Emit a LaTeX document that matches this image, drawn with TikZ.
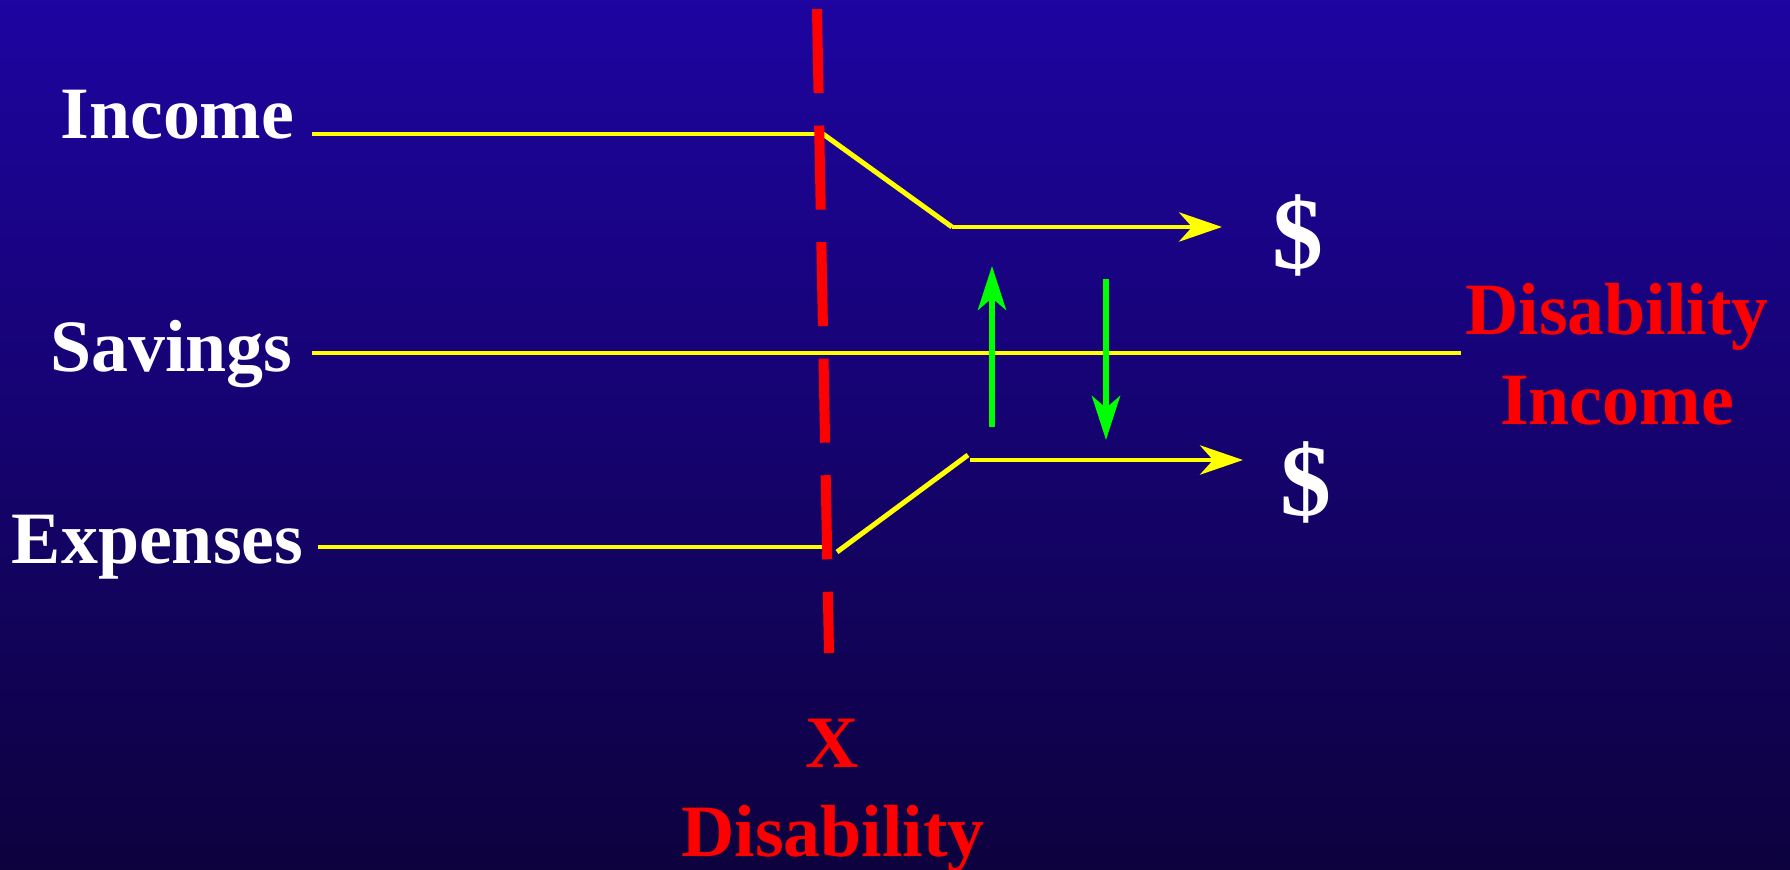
\documentclass[tikz,border=0pt]{standalone}
\usepackage{fontspec}
\setmainfont{Liberation Serif}
\usetikzlibrary{arrows.meta}
\definecolor{slideTop}{RGB}{30,4,160}
\definecolor{slideBot}{RGB}{13,2,62}
\definecolor{cashYellow}{RGB}{255,255,0}
\definecolor{swapGreen}{RGB}{0,255,0}
\tikzset{
  lbl/.style={font=\fontsize{21}{25}\selectfont\bfseries,text=white,inner sep=0pt},
  redlbl/.style={lbl,text=red},
  cashline/.style={draw=cashYellow,line width=1.42pt},
  cashtip/.style={cashline,-{Stealth[length=12.2pt,width=8.3pt,inset=3.7pt]}},
  swaparrow/.style={draw=swapGreen,line width=1.7pt,-{Stealth[length=12.5pt,width=8pt,inset=3.4pt]}},
}

\begin{document}
\begin{tikzpicture}[x=0.01cm,y=-0.01cm]
\shade[top color=slideTop,bottom color=slideBot] (0,0) rectangle (1790,870);
\clip (0,0) rectangle (1790,870);
% row labels
\node[lbl,anchor=base east] (income) at (295,139) {Income};
\node[lbl,anchor=base east] (savings) at (293,372) {Savings};
\node[lbl,anchor=base east] (expenses) at (304,563) {Expenses};
\node[lbl,font=\fontsize{29}{33}\selectfont\bfseries] (cashTop) at (1298,235) {\$};
\node[lbl,font=\fontsize{29}{33}\selectfont\bfseries] (cashBot) at (1306,482) {\$};
\node[redlbl,anchor=base] (diTop) at (1617,335) {Disability};
\node[redlbl,anchor=base] (diInc) at (1617,425) {Income};
\node[redlbl,anchor=base] (xmark) at (832,767) {X};
\node[redlbl,anchor=base] (xDis) at (833,856) {Disability};
% line points
\coordinate (incA) at (312,134);
\coordinate (incB) at (818,134);
\coordinate (incC) at (823,134);
\coordinate (incD) at (952,227);
\coordinate (incE) at (1222,227);
\coordinate (savA) at (312,353);
\coordinate (savB) at (1461,353);
\coordinate (expA) at (318,547);
\coordinate (expB) at (822,547);
\coordinate (expC) at (837,552);
\coordinate (expD) at (968,455);
\coordinate (expE) at (970,460);
\coordinate (expF) at (1243,460);
\draw[cashline] (incA)--(incB);
\draw[cashline] (incC)--(incD);
\draw[cashtip] (incD)--(incE);
\draw[cashline] (savA)--(savB);
\draw[cashline] (expA)--(expB);
\draw[cashline] (expC)--(expD);
\draw[cashtip] (expE)--(expF);
% disability line
\coordinate (cutTop) at (817,9);
\coordinate (cutBot) at (829,653);
\draw[red,line width=2.85pt,dash pattern=on 23.9pt off 9.25pt] (cutTop)--(cutBot);
% savings in and out
\coordinate (upA) at (992,427);
\coordinate (upB) at (992,266);
\coordinate (dnA) at (1106,279);
\coordinate (dnB) at (1106,440);
\draw[swaparrow] (upA)--(upB);
\draw[swaparrow] (dnA)--(dnB);
\end{tikzpicture}
\end{document}
